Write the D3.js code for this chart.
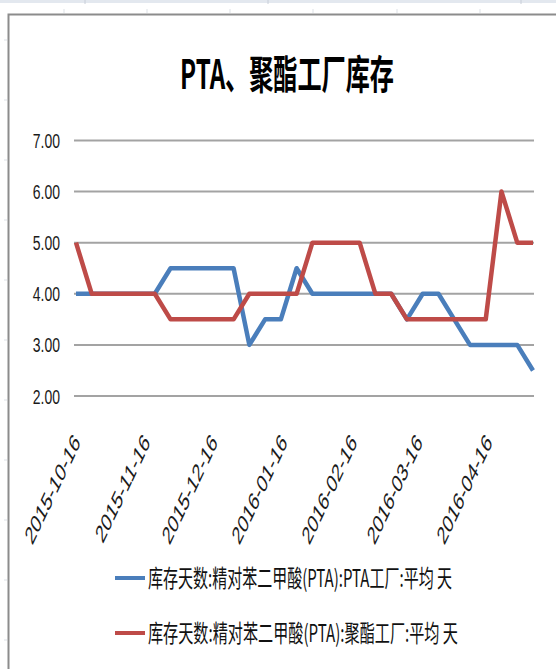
<!DOCTYPE html>
<html>
<head>
<meta charset="utf-8">
<script src="https://cdn.jsdelivr.net/npm/d3@7"></script>
<style>
body { margin: 0; background: #fff; }
svg { display: block; }
</style>
</head>
<body>
<svg id="chart" width="556" height="669"></svg>
<script>
// weekly observations, first one on 2015-10-16
var dates = ['2015-10-16', '2015-10-23', '2015-10-30', '2015-11-06', '2015-11-13', '2015-11-20',
    '2015-11-27', '2015-12-04', '2015-12-11', '2015-12-18', '2015-12-25', '2016-01-01',
    '2016-01-08', '2016-01-15', '2016-01-22', '2016-01-29', '2016-02-05', '2016-02-12',
    '2016-02-19', '2016-02-26', '2016-03-04', '2016-03-11', '2016-03-18', '2016-03-25',
    '2016-04-01', '2016-04-08', '2016-04-15', '2016-04-22', '2016-04-29', '2016-05-06']
var ptaFactory = [4.0, 4.0, 4.0, 4.0, 4.0, 4.0, 4.5, 4.5, 4.5, 4.5, 4.5, 3.0, 3.5, 3.5, 4.5,
    4.0, 4.0, 4.0, 4.0, 4.0, 4.0, 3.5, 4.0, 4.0, 3.5, 3.0, 3.0, 3.0, 3.0, 2.5]
var polyFactory = [5.0, 4.0, 4.0, 4.0, 4.0, 4.0, 3.5, 3.5, 3.5, 3.5, 3.5, 4.0, 4.0, 4.0, 4.0,
    5.0, 5.0, 5.0, 5.0, 4.0, 4.0, 3.5, 3.5, 3.5, 3.5, 3.5, 3.5, 6.0, 5.0, 5.0]
var tickDates = ['2015-10-16', '2015-11-16', '2015-12-16', '2016-01-16', '2016-02-16', '2016-03-16', '2016-04-16']
var yTicks = [2, 3, 4, 5, 6, 7]
var seriesNames = ['库存天数:精对苯二甲酸(PTA):PTA工厂:平均 天', '库存天数:精对苯二甲酸(PTA):聚酯工厂:平均 天']
var seriesColors = ['#4a7ebb', '#be4b48']
var title = 'PTA、聚酯工厂库存'

var parse = d3.timeParse('%Y-%m-%d')
var svg = d3.select('#chart')

// spreadsheet bits showing round the chart object
svg.append('rect').attr('x', 0).attr('y', 0).attr('width', 556).attr('height', 3).attr('fill', '#e3e8ef')
var colMarks = [85, 268, 521]
svg.selectAll('line.colmark').data(colMarks).enter().append('line')
    .attr('x1', function(d) { return d }).attr('x2', function(d) { return d })
    .attr('y1', 0).attr('y2', 4).attr('stroke', '#c8ced8')
var topMarks = [64, 147, 230, 313, 397, 480]
svg.selectAll('line.topmark').data(topMarks).enter().append('line')
    .attr('x1', function(d) { return d }).attr('x2', function(d) { return d })
    .attr('y1', 9).attr('y2', 13).attr('stroke', '#dde1e6')
var leftMarks = [40, 100, 160, 220, 280, 340, 400, 460, 520, 580, 640]
svg.selectAll('line.leftmark').data(leftMarks).enter().append('line')
    .attr('x1', 4).attr('x2', 7)
    .attr('y1', function(d) { return d }).attr('y2', function(d) { return d })
    .attr('stroke', '#dde1e6')

// chart border
svg.append('path').attr('d', 'M8.5,669V14.5H556')
    .attr('fill', 'none').attr('stroke', '#8c8c8c').attr('stroke-width', 2)

var x = d3.scaleTime().domain([parse(dates[0]), parse(dates[dates.length - 1])]).range([76, 533])
var y = d3.scaleLinear().domain([2, 7]).range([396, 140.5])

// title
svg.append('text')
    .attr('transform', 'translate(180,89) scale(1,1.55)')
    .attr('textLength', 214).attr('lengthAdjust', 'spacingAndGlyphs')
    .style('font-family', '"Noto Sans CJK SC", sans-serif')
    .style('font-weight', 'bold').style('font-size', '26px').attr('fill', '#000')
    .text(title)

// gridlines
svg.selectAll('line.grid').data(yTicks).enter().append('line')
    .attr('x1', 74).attr('x2', 534)
    .attr('y1', function(d) { return y(d) }).attr('y2', function(d) { return y(d) })
    .attr('stroke', '#a3a3a3').attr('stroke-width', 2)

// y labels
svg.selectAll('text.ylab').data(yTicks).enter().append('text')
    .attr('transform', function(d) { return 'translate(60,' + y(d) + ') scale(1,1.5)' })
    .attr('text-anchor', 'end').attr('dy', '0.36em')
    .style('font-family', '"Liberation Sans", Arial, sans-serif').style('font-size', '14px')
    .attr('fill', '#1a1a1a')
    .text(function(d) { return d3.format('.2f')(d) })

// x labels, rotated
svg.selectAll('text.xlab').data(tickDates).enter().append('text')
    .attr('transform', function(d) { return 'translate(' + (x(parse(d)) + 5) + ',443) scale(1,1.65) rotate(-52)' })
    .attr('text-anchor', 'end')
    .style('font-family', '"Liberation Sans", Arial, sans-serif').style('font-size', '15.5px')
    .attr('fill', '#1a1a1a')
    .text(function(d) { return d })

// lines
var series = [ptaFactory, polyFactory]
var line = d3.line()
    .x(function(d, i) { return x(parse(dates[i])) })
    .y(function(d) { return y(d) })
svg.selectAll('path.series').data(series).enter().append('path')
    .attr('d', function(d) { return line(d) })
    .attr('fill', 'none')
    .attr('stroke', function(d, i) { return seriesColors[i] })
    .attr('stroke-width', 4.5)
    .attr('stroke-linejoin', 'round')

// legend
var legend = svg.selectAll('g.legend').data(seriesNames).enter().append('g')
    .attr('transform', function(d, i) { return 'translate(115,' + (578 + i * 55) + ')' })
legend.append('line').attr('x1', 0).attr('x2', 30).attr('y1', 0).attr('y2', 0)
    .attr('stroke', function(d, i) { return seriesColors[i] }).attr('stroke-width', 4)
legend.append('text')
    .attr('transform', 'translate(33,0) scale(1,1.6)')
    .attr('dy', '0.36em')
    .attr('textLength', function(d, i) { return i == 0 ? 304 : 310 })
    .attr('lengthAdjust', 'spacingAndGlyphs')
    .style('font-family', '"Noto Sans CJK SC", sans-serif').style('font-size', '15px')
    .attr('fill', '#111')
    .text(function(d) { return d })
</script>
</body>
</html>
